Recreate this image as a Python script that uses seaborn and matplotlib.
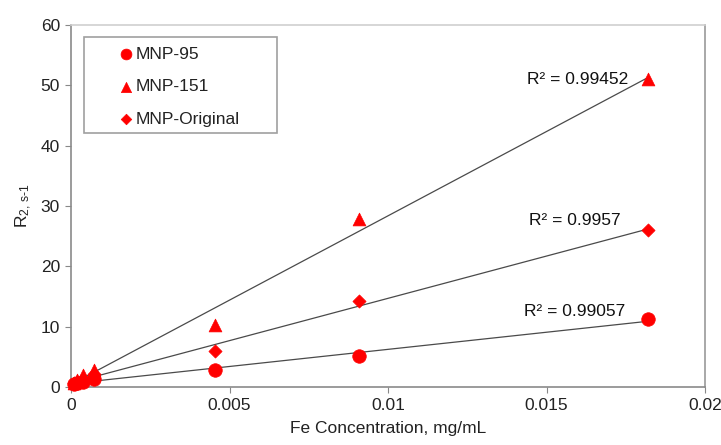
import numpy as np
import pandas as pd
import matplotlib
matplotlib.use("Agg")
import matplotlib.pyplot as plt
import seaborn as sns
from matplotlib.patches import Rectangle

# ---- data ----
conc = [0.000091, 0.000182, 0.000364, 0.000728, 0.00455, 0.0091, 0.0182]
r2_mnp95 = [0.5, 0.7, 0.9, 1.4, 2.9, 5.2, 11.2]
r2_mnp151 = [0.7, 1.2, 2.0, 2.8, 10.3, 27.8, 51.0]
r2_mnp_orig = [0.6, 0.9, 1.4, 2.1, 6.0, 14.3, 26.0]
series_names = ["MNP-95", "MNP-151", "MNP-Original"]
r_squared_labels = ["R\u00b2 = 0.99057", "R\u00b2 = 0.99452", "R\u00b2 = 0.9957"]
x_ticks = [0, 0.005, 0.01, 0.015, 0.02]
x_tick_labels = ["0", "0.005", "0.01", "0.015", "0.02"]
y_ticks = [0, 10, 20, 30, 40, 50, 60]
y_tick_labels = ["0", "10", "20", "30", "40", "50", "60"]

# ---- styling ----
sns.set_style("white")
plt.rcParams["font.family"] = ["Liberation Sans", "DejaVu Sans"]
plt.rcParams["mathtext.fontset"] = "custom"
plt.rcParams["mathtext.rm"] = "Liberation Sans"
plt.rcParams["mathtext.it"] = "Liberation Sans:italic"
FS = 12.5
RED = "#ff0000"

series_vals = [r2_mnp95, r2_mnp151, r2_mnp_orig]
markers = ["o", "^", "D"]
sizes = [95, 85, 45]
label_offsets = [(-16, 5.8), (-14.4, 0), (-20, 7.2)]  # points, text placement

fig = plt.figure(figsize=(7.21, 4.45), dpi=100)
ax = fig.add_axes([71 / 721, 58 / 445, 634 / 721, 362 / 445])

for name, vals, mk, sz in zip(series_names, series_vals, markers, sizes):
    df = pd.DataFrame({"x": conc, "y": vals})
    sns.regplot(data=df, x="x", y="y", scatter=False, ci=None, ax=ax,
                color="#4a4a4a", line_kws={"lw": 0.9}, truncate=True)
    sns.scatterplot(data=df, x="x", y="y", marker=mk, s=sz, color=RED,
                    edgecolor=RED, linewidth=0.5, ax=ax, label=name,
                    clip_on=False, zorder=3)

for vals, txt, off in zip(series_vals, r_squared_labels, label_offsets):
    ax.annotate(txt, xy=(conc[-1], vals[-1]), xytext=off,
                textcoords="offset points", ha="right", va="center",
                fontsize=FS, color="#111111")

ax.set_xlim(0, 0.02)
ax.set_ylim(0, 60)
ax.set_xticks(x_ticks)
ax.set_xticklabels(x_tick_labels)
ax.set_yticks(y_ticks)
ax.set_yticklabels(y_tick_labels)
ax.tick_params(axis="both", direction="out", length=4, width=0.8,
               color="#888888", labelsize=FS, labelcolor="#222222", pad=4,
               left=True, bottom=True)

for side, col in [("left", "#8a8a8a"), ("bottom", "#8a8a8a"),
                  ("top", "#d0d0d0"), ("right", "#9a9a9a")]:
    ax.spines[side].set_visible(True)
    ax.spines[side].set_color(col)
    ax.spines[side].set_linewidth(1.2)

ax.set_xlabel("Fe Concentration, mg/mL", fontsize=FS, color="#222222", labelpad=6)
ax.set_ylabel(r"R$_{\text{2, s-1}}$", fontsize=FS, color="#222222", labelpad=5)

# legend
handles, labels = ax.get_legend_handles_labels()
leg = ax.legend(handles, labels, loc="upper left", bbox_to_anchor=(0.074, 0.94),
                frameon=False, borderpad=0, borderaxespad=0, handlelength=0.9,
                handletextpad=0.1, labelspacing=1.0, scatterpoints=1,
                markerscale=0.8, fontsize=FS)
for t in leg.get_texts():
    t.set_color("#222222")
ax.add_patch(Rectangle((0.0205, 0.702), 0.3045, 0.265, transform=ax.transAxes,
                       fill=False, edgecolor="#a0a0a0", lw=1.2, zorder=5))

fig.savefig("out.png", dpi=100)
